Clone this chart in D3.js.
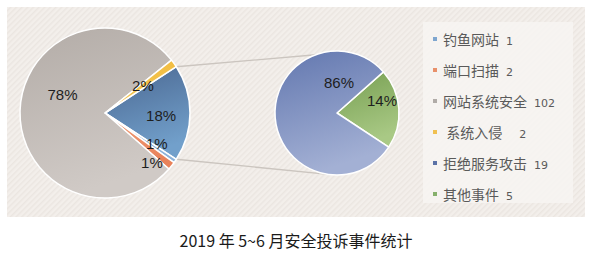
<!DOCTYPE html>
<html>
<head>
<meta charset="utf-8">
<script src="https://cdn.jsdelivr.net/npm/d3@7"></script>
<style>
  body { margin: 0; background: #fff; }
  svg { display: block; }
</style>
</head>
<body>
<svg id="chart" width="592" height="263"></svg>
<script>
// data
var categories = ["钓鱼网站", "端口扫描", "网站系统安全", "系统入侵", "拒绝服务攻击", "其他事件"];
var counts = [1, 2, 102, 2, 19, 5];
var legendNames = ["钓鱼网站", "端口扫描", "网站系统安全", " 系统入侵 ", "拒绝服务攻击", "其他事件"];
// percentage labels as printed on the chart
var mainLabels = ["18%", "1%", "1%", "78%", "2%"];   // other, 钓鱼, 端口, 网站, 入侵
var subLabels = ["14%", "86%"];                       // 其他事件, 拒绝服务攻击
var title = "2019 年 5~6 月安全投诉事件统计";

var legendColors = ["#7ea6cf", "#e8906a", "#b0aba7", "#f0c050", "#5b72a6", "#86b06c"];

var svg = d3.select("#chart");
var defs = svg.append("defs");

// hatched background
var pat = defs.append("pattern").attr("id", "hatch")
    .attr("width", 4).attr("height", 4)
    .attr("patternUnits", "userSpaceOnUse")
    .attr("patternTransform", "rotate(45)");
pat.append("rect").attr("width", 4).attr("height", 4).attr("fill", "#f3efeb");
pat.append("rect").attr("width", 1.5).attr("height", 4).attr("fill", "#ebe6e1");

function grad(id, c1, c2) {
    var g = defs.append("linearGradient").attr("id", id)
        .attr("x1", 0).attr("y1", 0).attr("x2", 0.3).attr("y2", 1);
    g.append("stop").attr("offset", "0%").attr("stop-color", c1);
    g.append("stop").attr("offset", "100%").attr("stop-color", c2);
}
grad("gOther", "#4a6791", "#72a0cb");
grad("gPhish", "#a8c6e6", "#8db3da");
grad("gPort", "#f0a07a", "#e8825a");
grad("gWeb", "#b3aca7", "#d0cac6");
grad("gIntr", "#f0b93a", "#f5c858");
grad("gDdos", "#6277af", "#a3b0d4");
grad("gEtc", "#779f52", "#a9c985");

svg.append("rect").attr("x", 7).attr("y", 7).attr("width", 578).attr("height", 210)
    .attr("fill", "url(#hatch)");
svg.append("rect").attr("x", 423).attr("y", 22).attr("width", 150).attr("height", 181)
    .attr("fill", "#f7f5f2").attr("opacity", 0.85);

// main pie: "other" slice (last two categories) centred at 3 o'clock
var other = counts[4] + counts[5];
var mainData = [
    { v: other, fill: "url(#gOther)", label: mainLabels[0] },
    { v: counts[0], fill: "url(#gPhish)", label: mainLabels[1] },
    { v: counts[1], fill: "url(#gPort)", label: mainLabels[2] },
    { v: counts[2], fill: "url(#gWeb)", label: mainLabels[3] },
    { v: counts[3], fill: "url(#gIntr)", label: mainLabels[4] }
];
var total = d3.sum(mainData, function(d) { return d.v; });
var otherAngle = other / total * 2 * Math.PI;
var start1 = Math.PI / 2 - otherAngle / 2;

var cx1 = 105, cy1 = 113, r1 = 85;
var cx2 = 337, cy2 = 113, r2 = 62;

var pie1 = d3.pie().sort(null).value(function(d) { return d.v; })
    .startAngle(start1).endAngle(start1 + 2 * Math.PI)(mainData);

var arc1 = d3.arc().innerRadius(0).outerRadius(r1);

// connector lines
function pt(cx, cy, r, a) { return [cx + r * Math.sin(a), cy - r * Math.cos(a)]; }
var conTop = [pt(cx1, cy1, r1, pie1[0].startAngle), pt(cx2, cy2, r2, -20 * Math.PI / 180)];
var conBot = [pt(cx1, cy1, r1, pie1[0].endAngle), pt(cx2, cy2, r2, 188 * Math.PI / 180)];
svg.selectAll("line.con").data([conTop, conBot]).enter().append("line")
    .attr("class", "con")
    .attr("x1", function(d) { return d[0][0]; }).attr("y1", function(d) { return d[0][1]; })
    .attr("x2", function(d) { return d[1][0]; }).attr("y2", function(d) { return d[1][1]; })
    .attr("stroke", "#cbc5bf").attr("stroke-width", 1.3);

var g1 = svg.append("g").attr("transform", "translate(" + cx1 + "," + cy1 + ")");
g1.selectAll("path").data(pie1).enter().append("path")
    .attr("d", arc1)
    .attr("fill", function(d) { return d.data.fill; })
    .attr("stroke", "#fff").attr("stroke-width", 1.5).attr("stroke-linejoin", "round");

// label placement (radius, nudge) per slice
var lab1 = [[0.66, 0, 3], [0.71, 2, -3], [0.81, -7, 7], [0.5, 0, -17], [0.55, 0, 0]];
g1.selectAll("text").data(pie1).enter().append("text")
    .attr("transform", function(d, i) {
        var a = (d.startAngle + d.endAngle) / 2, r = r1 * lab1[i][0];
        return "translate(" + (r * Math.sin(a) + lab1[i][1]) + "," + (-r * Math.cos(a) + lab1[i][2]) + ")";
    })
    .attr("text-anchor", "middle").attr("dy", "0.35em")
    .style("font", "15px 'Liberation Sans', Arial, sans-serif").style("fill", "#1e1e1e")
    .text(function(d) { return d.data.label; });

// second pie
var subData = [
    { v: counts[5], fill: "url(#gEtc)", label: subLabels[0] },
    { v: counts[4], fill: "url(#gDdos)", label: subLabels[1] }
];
var subAngle = counts[5] / other * 2 * Math.PI;
var start2 = Math.PI / 2 - subAngle / 2 - 0.07;
var pie2 = d3.pie().sort(null).value(function(d) { return d.v; })
    .startAngle(start2).endAngle(start2 + 2 * Math.PI)(subData);
var arc2 = d3.arc().innerRadius(0).outerRadius(r2);

var g2 = svg.append("g").attr("transform", "translate(" + cx2 + "," + cy2 + ")");
g2.selectAll("path").data(pie2).enter().append("path")
    .attr("d", arc2)
    .attr("fill", function(d) { return d.data.fill; })
    .attr("stroke", "#fff").attr("stroke-width", 1.5).attr("stroke-linejoin", "round");

var lab2 = [[45, -12], [2, -30]];
g2.selectAll("text").data(pie2).enter().append("text")
    .attr("x", function(d, i) { return lab2[i][0]; })
    .attr("y", function(d, i) { return lab2[i][1]; })
    .attr("text-anchor", "middle").attr("dy", "0.35em")
    .style("font", "15px 'Liberation Sans', Arial, sans-serif").style("fill", "#1e1e1e")
    .text(function(d) { return d.data.label; });

// legend
var ly = d3.scalePoint().domain(d3.range(categories.length)).range([39, 194]);
var leg = svg.append("g").selectAll("g").data(categories).enter().append("g")
    .attr("transform", function(d, i) { return "translate(433," + ly(i) + ")"; });
leg.append("rect").attr("x", 0).attr("y", -2).attr("width", 4).attr("height", 4)
    .attr("fill", function(d, i) { return legendColors[i]; });
var lt = leg.append("text").attr("x", 10).attr("dy", "0.35em")
    .style("fill", "#5a5a5a").style("white-space", "pre");
lt.append("tspan").style("font", "14px 'Noto Sans CJK SC', sans-serif")
    .text(function(d, i) { return legendNames[i]; });
lt.append("tspan").attr("dx", 7).style("font", "11px 'DejaVu Sans', sans-serif")
    .text(function(d, i) { return (i === 3 ? "  " : "") + counts[i]; });

// title
svg.append("text").attr("x", 296).attr("y", 241).attr("dy", "0.35em")
    .attr("text-anchor", "middle")
    .style("font", "16px 'Noto Sans CJK SC', sans-serif").style("fill", "#1a1a1a")
    .text(title);
</script>
</body>
</html>
